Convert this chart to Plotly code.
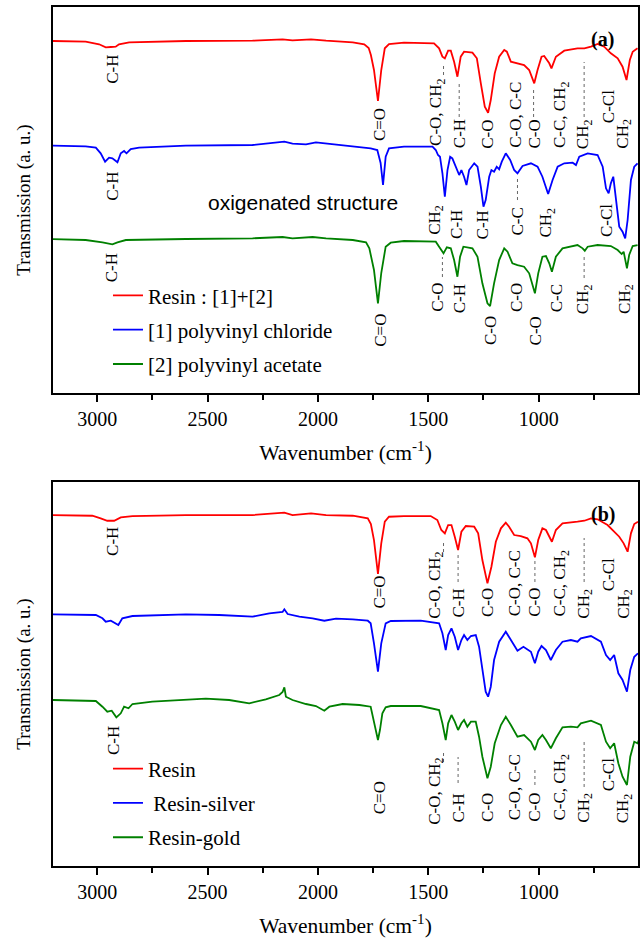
import plotly.graph_objects as go

# ---------------- data (wavenumber cm^-1, transmission a.u.) ----------------
# Panel (a)
A_RESIN = [(3203,352),(3052,351.3),(2991,348.7),(2961,345.7),(2938,346),(2916,346.3),(2901,348.7),(2855,350.7),
           (2598,352),(2296,352.3),(2160,353.7),(2115,352.7),(2031,353.7),(1963,352.3),(1842,350.7),(1790,348.7),
           (1770,345),(1760,338),(1746,323),(1728,292),(1713,323),(1697,344.7),(1678,349),(1610,350.3),(1474,349.7),
           (1451,344.7),(1436,336.3),(1425,334.7),(1410,342.3),(1398,342.3),(1383,331.3),(1368,316.3),(1353,336.3),
           (1338,341.3),(1300,340.3),(1280,334.7),(1262,309.7),(1244,286.3),(1229,280.3),(1217,293),(1199,319.7),
           (1179,336.3),(1156,343),(1144,341.3),(1126,331.3),(1096,329.7),(1066,328),(1043,323),(1020,309.7),
           (1005,323),(987,336.3),(975,337),(952,329.7),(942,324.7),(922,336.3),(884,342.3),(824,344.7),(793,344.7),
           (763,346.3),(733,349),(703,346.3),(673,339.7),(642,334.7),(620,326.3),(602,313),(587,333),(574,341.3),(552,344.7)]
A_PVC = [(3203,247.3),(3052,246.7),(3006,245.3),(2984,239.7),(2964,231.3),(2946,235.3),(2931,234.7),(2908,230.7),
         (2893,239.7),(2878,242),(2867,239.7),(2848,244),(2810,245.3),(2598,247.3),(2296,248),(2220,249.7),(2152,251.3),
         (2115,249.3),(2054,248.7),(2009,250.7),(1948,249.3),(1842,247.3),(1761,244.7),(1731,243),(1716,230),(1705,208),
         (1693,236.3),(1678,244.7),(1610,246.3),(1481,246.3),(1466,243),(1456,238),(1447,236.3),(1436,220),(1425,196.3),
         (1413,223),(1401,236.3),(1391,234.7),(1371,223),(1360,218),(1350,223),(1338,216.3),(1327,208),(1315,223),
         (1292,229.7),(1277,226.3),(1262,206.3),(1250,186.3),(1240,193),(1224,216.3),(1214,223),(1202,221.3),(1190,226.3),
         (1179,223.7),(1167,231.3),(1149,239.7),(1129,233),(1111,223),(1096,219.7),(1073,227),(1035,229.7),(1005,226.3),
         (983,216.3),(957,199),(937,213),(914,226.3),(884,229.7),(846,230.3),(831,228),(816,236.3),(778,239.7),(733,238),
         (710,226.3),(695,204.7),(683,199.7),(673,209.7),(662,216.3),(650,196.3),(635,166.3),(620,161.3),(608,154.7),
         (597,173),(582,213),(567,226.3),(552,229.7)]
A_PVAC = [(3203,154),(3052,153),(2976,150.7),(2931,148.7),(2908,150.7),(2870,153),(2598,154),(2296,154.7),(2160,156),
          (2115,154.7),(2024,156),(1963,154.7),(1842,153),(1782,150.7),(1767,144.7),(1746,123),(1728,89.7),(1713,120),
          (1693,146.3),(1670,150.3),(1610,152),(1466,151.3),(1451,146.3),(1431,139.7),(1416,145.7),(1398,144.7),(1383,133),
          (1368,116.3),(1356,136.3),(1341,146.3),(1300,144.7),(1277,136.3),(1255,109.7),(1232,89.7),(1220,87),(1202,109.7),
          (1179,133),(1156,144.7),(1141,141.3),(1119,129.7),(1096,128),(1066,126.3),(1043,119.7),(1017,99.7),(1002,119.7),
          (983,136.3),(967,137),(952,129.7),(940,121.3),(922,136.3),(892,144.7),(824,148),(801,144.7),(791,142.3),
          (778,146.3),(733,148),(673,147),(642,143),(624,139),(615,141.3),(600,124.7),(590,138),(574,147),(552,148)]

# Panel (b)
B_RESIN = [(3203,351),(3022,350.3),(2984,347.7),(2954,345.3),(2923,345.3),(2893,348.7),(2840,350),(2598,351),(2296,351),
           (2152,353.3),(2115,351),(2031,352.7),(1963,351),(1842,350.3),(1774,347.7),(1760,342),(1746,326),(1728,292),
           (1713,322.7),(1697,344.3),(1678,349.3),(1610,350),(1489,350),(1459,346),(1441,336),(1425,332.7),(1410,341),
           (1395,341),(1380,329.3),(1365,316),(1350,334.3),(1330,340),(1292,339.3),(1274,332.7),(1255,306),(1232,282.7),
           (1214,299.3),(1194,324.3),(1171,337.7),(1149,343.3),(1134,339.3),(1111,331),(1081,330),(1051,327.7),(1035,322.7),
           (1017,308.7),(1002,326),(983,337.7),(967,336),(952,329.3),(940,324.3),(922,336),(892,342.7),(824,344.3),
           (793,345.3),(763,347.7),(733,346.7),(688,341),(657,334.3),(635,329.3),(615,322.7),(597,314.3),(582,332.7),
           (567,342),(550,344.3)]
B_SILVER = [(3203,251.7),(3006,251),(2976,247.7),(2961,244.3),(2938,245.3),(2919,242.7),(2904,241),(2886,247.7),(2840,250),
            (2598,251.7),(2447,251),(2296,249.3),(2220,252.7),(2160,254),(2152,256.7),(2137,252),(2084,249.3),(2024,247.7),
            (1971,245.3),(1918,247.3),(1842,246.7),(1774,245.3),(1761,242.7),(1746,222.7),(1728,194.3),(1713,222.7),
            (1693,242.7),(1670,245),(1534,245.3),(1451,242.7),(1436,232.7),(1421,216),(1410,231),(1395,237.7),(1380,229.3),
            (1365,216),(1350,226),(1338,231),(1323,226),(1307,230),(1285,231),(1270,219.3),(1255,196),(1240,174.3),
            (1229,169.3),(1217,179.3),(1202,206),(1179,224.3),(1149,234.3),(1126,226),(1096,215.3),(1069,219.3),(1035,214.3),
            (1017,202.7),(1002,214.3),(987,220),(967,216),(945,206),(922,216),(892,224.3),(854,226),(824,224.3),(809,227.7),
            (763,230),(718,224.3),(695,211),(676,206),(658,211),(639,192.7),(620,186),(600,174.3),(585,196),(567,209.3),
            (550,212.7)]
B_GOLD = [(3203,166),(3006,165),(2976,159.3),(2954,154.3),(2934,155.3),(2913,148.7),(2893,152.7),(2878,159.3),(2858,157.7),
          (2840,162),(2750,164.3),(2598,166),(2508,167.3),(2402,166),(2311,162.7),(2236,166.7),(2175,171),(2160,174),
          (2152,178.7),(2145,169.3),(2115,166),(2054,162),(2009,160),(1971,155.3),(1948,159.3),(1888,162),(1812,161),
          (1761,159.3),(1746,142.7),(1728,126),(1719,136),(1708,152.7),(1693,158.7),(1670,160),(1534,160),(1451,156),
          (1436,142.7),(1421,126),(1410,142.7),(1395,151),(1380,144.3),(1365,136),(1350,142.7),(1338,146),(1323,139.3),
          (1307,144.3),(1285,144.3),(1270,129.3),(1255,109.3),(1232,87.7),(1217,99.3),(1199,122.7),(1171,141),(1149,149.3),
          (1126,141),(1096,129.3),(1066,131),(1035,124.3),(1017,116),(1002,126),(983,131),(967,126),(945,117.7),(922,127.7),
          (892,138.7),(854,139.3),(824,138.7),(809,142.7),(763,145.3),(718,141),(695,124.3),(676,117.7),(658,122.7),
          (639,102.7),(620,89.3),(600,81),(585,109.3),(567,124.3),(552,122.7),(540,129.3)]

NAMES_A = ["Resin : [1]+[2]", "[1] polyvinyl chloride", "[2] polyvinyl acetate"]
NAMES_B = ["Resin", "\u00a0Resin-silver", "Resin-gold"]
COLORS = ["#FF0000", "#0000FF", "#008000"]
X_TICKS = [3000, 2500, 2000, 1500, 1000]
X_MINOR = [2750, 2250, 1750, 1250, 750]

# band assignments: (text, wavenumber, centre of rotated label in a.u.)
BANDS_A = [("C-H", 2934, 324), ("C=O", 1723, 268), ("C-O, CH<sub>2</sub>", 1463, 280.5), ("C-H", 1360, 259),
           ("C-O", 1235, 259), ("C-O, C-C", 1108, 278), ("C-O", 1023, 259), ("C-C, CH<sub>2</sub>", 899, 278),
           ("CH<sub>2</sub>", 794, 259), ("C-Cl", 685, 286), ("CH<sub>2</sub>", 615, 259),
           ("C-H", 2934, 207), ("CH<sub>2</sub>", 1466, 173), ("C-H", 1375, 169), ("C-H", 1255, 168),
           ("C-C", 1096, 172), ("CH<sub>2</sub>", 960, 171), ("C-Cl", 695, 173),
           ("C-H", 2934, 125.5), ("C=O", 1720, 63), ("C-O", 1459, 95.5), ("C-H", 1360, 94), ("C-O", 1220, 62),
           ("C-O", 1100, 95.5), ("C-O", 1015, 62), ("C-C", 920, 95), ("CH<sub>2</sub>", 794, 94), ("CH<sub>2</sub>", 605, 94)]
BANDS_B = [("C-H", 2931, 324.5), ("C=O", 1723, 273.5), ("C-O, CH<sub>2</sub>", 1466, 281), ("C-H", 1361, 263.5),
           ("C-O", 1232, 263.5), ("C-O, C-C", 1108, 282.5), ("C-O", 1020, 263.5), ("C-C, CH<sub>2</sub>", 899, 282.5),
           ("CH<sub>2</sub>", 794, 262.5), ("C-Cl", 685, 291), ("CH<sub>2</sub>", 612, 262.5),
           ("C-H", 2928, 125), ("C=O", 1720, 68.5), ("C-O, CH<sub>2</sub>", 1466, 75), ("C-H", 1361, 58.5),
           ("C-O", 1232, 58.5), ("C-O, C-C", 1108, 78.5), ("C-O", 1020, 58.5), ("C-C, CH<sub>2</sub>", 899, 78.5),
           ("CH<sub>2</sub>", 794, 58.5), ("C-Cl", 685, 91), ("CH<sub>2</sub>", 612, 58)]
# dotted leaders: (wavenumber, low, high)
LEADERS_A = [(1431, 318, 330), (1360, 276, 311), (1023, 276, 306), (794, 276, 331),
             (1096, 193, 216), (1436, 116, 136), (794, 115, 138)]
LEADERS_B = [(1431, 314, 326), (1365, 284, 313), (1017, 284, 306), (794, 284, 328),
             (1431, 104, 114), (1365, 83, 109), (1017, 81, 96), (794, 79, 124)]

SERIF = "Liberation Serif, Times New Roman, serif"

fig = go.Figure()

def add_series(data, name, color, xa, ya, legend):
    fig.add_trace(go.Scatter(x=[p[0] for p in data], y=[p[1] for p in data], mode="lines", name=name,
                             line=dict(color=color, width=1.8), xaxis=xa, yaxis=ya, legend=legend,
                             legendgroup=name))

for data, name, color in zip([A_RESIN, A_PVC, A_PVAC], NAMES_A, COLORS):
    add_series(data, name, color, "x", "y", "legend")
for data, name, color in zip([B_RESIN, B_SILVER, B_GOLD], NAMES_B, COLORS):
    add_series(data, name, color, "x2", "y2", "legend2")

def add_leaders(leaders, xa, ya):
    xs, ys = [], []
    for w, lo, hi in leaders:
        xs += [w, w, None]
        ys += [lo, hi, None]
    fig.add_trace(go.Scatter(x=xs, y=ys, mode="lines", showlegend=False, hoverinfo="skip",
                             line=dict(color="#666666", width=1, dash="dot"), xaxis=xa, yaxis=ya))

add_leaders(LEADERS_A, "x", "y")
add_leaders(LEADERS_B, "x2", "y2")

annotations = []
for bands, xr, yr in [(BANDS_A, "x", "y"), (BANDS_B, "x2", "y2")]:
    for text, w, t in bands:
        annotations.append(dict(text=text, x=w, y=t, xref=xr, yref=yr, textangle=-90, showarrow=False,
                                xanchor="center", yanchor="middle", font=dict(family=SERIF, size=17, color="black")))
annotations.append(dict(text="<b>(a)</b>", x=713, y=354, xref="x", yref="y", showarrow=False,
                        font=dict(family=SERIF, size=20, color="black")))
annotations.append(dict(text="<b>(b)</b>", x=708, y=352, xref="x2", yref="y2", showarrow=False,
                        font=dict(family=SERIF, size=20, color="black")))
annotations.append(dict(text="oxigenated structure", x=2069, y=191, xref="x", yref="y", showarrow=False,
                        font=dict(family="Liberation Sans, Arial, sans-serif", size=21, color="black")))

xaxis_common = dict(range=[3200, 550], tickvals=X_TICKS, ticks="outside", ticklen=7, tickwidth=1.5,
                    tickcolor="black", showline=True, linecolor="black", linewidth=1.6, mirror=True,
                    showgrid=False, zeroline=False, tickfont=dict(family=SERIF, size=20, color="black"),
                    minor=dict(tickvals=X_MINOR, ticks="outside", ticklen=5, tickwidth=1.5, tickcolor="black"),
                    title=dict(text="Wavenumber (cm<sup>-1</sup>)", font=dict(family=SERIF, size=21.5, color="black"),
                               standoff=16))
yaxis_common = dict(showticklabels=False, ticks="", showline=True, linecolor="black", linewidth=1.6, mirror=True,
                    showgrid=False, zeroline=False,
                    title=dict(text="Transmission (a. u.)", font=dict(family=SERIF, size=19, color="black"),
                               standoff=16))

legend_common = dict(font=dict(family=SERIF, size=21, color="black"), bgcolor="rgba(0,0,0,0)",
                     traceorder="grouped", tracegroupgap=4, xanchor="left", yanchor="top", itemclick=False)

fig.update_layout(
    width=641, height=942, margin=dict(l=53, r=3, t=7, b=76, autoexpand=False),
    paper_bgcolor="white", plot_bgcolor="white",
    xaxis=dict(xaxis_common, domain=[0, 1], anchor="y"),
    yaxis=dict(yaxis_common, domain=[0.5506, 1.0], range=[0, 386], anchor="x"),
    xaxis2=dict(xaxis_common, domain=[0, 1], anchor="y2"),
    yaxis2=dict(yaxis_common, domain=[0.0, 0.4470], range=[0, 384], anchor="x2"),
    legend=dict(legend_common, x=0.094, y=0.6877),
    legend2=dict(legend_common, x=0.094, y=0.1368),
    annotations=annotations,
    showlegend=True,
)

fig.write_html("out.html", config={"displayModeBar": False},
               post_script="document.body.style.margin='0px';")
